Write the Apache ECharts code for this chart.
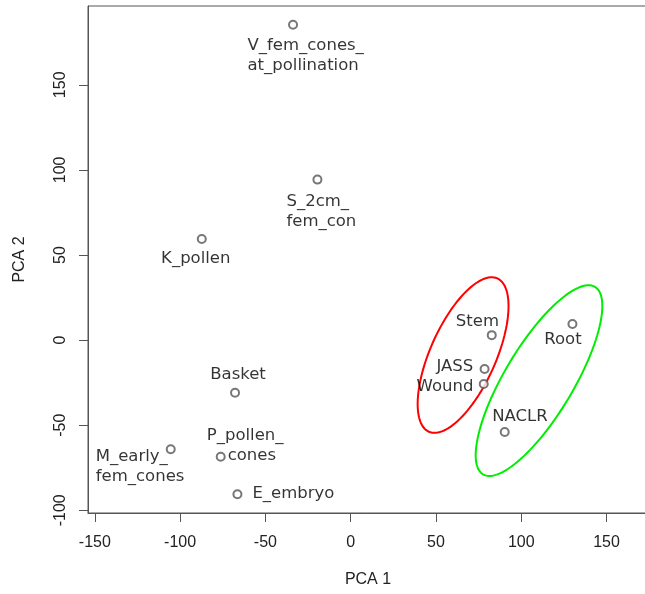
<!DOCTYPE html>
<html>
<head>
<meta charset="utf-8">
<script src="https://cdn.jsdelivr.net/npm/echarts@6/dist/echarts.min.js"></script>
<style>
html,body{margin:0;padding:0;background:#fff;}
#chart{width:645px;height:594px;}
</style>
</head>
<body>
<div id="chart"></div>
<script>
// ---- data ----
const sampleNames = ['V_fem_cones_\nat_pollination', 'S_2cm_\nfem_con', 'K_pollen', 'Basket',
  'M_early_\nfem_cones', 'P_pollen_\n    cones', 'E_embryo', 'Stem', 'JASS', 'Wound', 'Root', 'NACLR'];
const pca1 = [-33.8, -19.5, -87.3, -67.8, -105.5, -76.2, -66.4, 82.7, 78.5, 78.0, 130.0, 90.3];
const pca2 = [185.3, 94.3, 59.4, -30.9, -64.1, -68.5, -90.6, 2.9, -17.0, -25.8, 9.4, -54.0];
const xTicks = [-150, -100, -50, 0, 50, 100, 150];
const yTicks = [-100, -50, 0, 50, 100, 150];
// group ellipses (centre x, centre y, semi-major, semi-minor, tilt deg from vertical)
const ellipseCentersX = [65.9, 110.4];
const ellipseCentersY = [-8.8, -23.8];
const ellipseSemiMajor = [49.3, 64.1];
const ellipseSemiMinor = [19.2, 20.2];
const ellipseTilt = [24, 30.8];
const ellipseColors = ['#ff0000', '#00ee00'];

// ---- label placement (style, not data): [align, dx, dy of text top] ----
const labelPlacement = [
  ['left', -45.6, 10.7], ['left', -31, 12.4], ['center', -6, 9.6], ['center', 3, -27.7],
  ['left', -75, -2], ['left', -14, -30.7], ['left', 15, -10.4], ['center', -14.3, -23.3],
  ['right', -11.3, -12.3], ['right', -10.3, -7.3], ['center', -9.5, 6], ['center', 15.2, -25.3]
];

const points = sampleNames.map((n, i) => ({
  value: [pca1[i], pca2[i]],
  name: n,
  label: {
    show: true, position: 'inside', formatter: n,
    align: labelPlacement[i][0], verticalAlign: 'top',
    offset: [labelPlacement[i][1], labelPlacement[i][2]]
  }
}));

const axisFont = 'Liberation Sans';
const chart = echarts.init(document.getElementById('chart'), null, {renderer: 'canvas'});

const ellipseSeries = ellipseCentersX.map((cx, k) => ({
  type: 'custom',
  data: [[cx, ellipseCentersY[k]]],
  silent: true,
  z: 1,
  renderItem: function (params, api) {
    const cy = ellipseCentersY[k], a = ellipseSemiMajor[k], b = ellipseSemiMinor[k];
    const phi = ellipseTilt[k] * Math.PI / 180;
    const pts = [];
    for (let i = 0; i < 120; i++) {
      const t = i / 120 * 2 * Math.PI;
      const dx = a * Math.cos(t) * Math.sin(phi) + b * Math.sin(t) * Math.cos(phi);
      const dy = a * Math.cos(t) * Math.cos(phi) - b * Math.sin(t) * Math.sin(phi);
      pts.push(api.coord([cx + dx, cy + dy]));
    }
    return {
      type: 'polygon',
      shape: {points: pts},
      style: {fill: null, stroke: ellipseColors[k], lineWidth: 2}
    };
  }
}));

chart.setOption({
  animation: false,
  backgroundColor: '#fff',
  grid: {left: 88, top: 6, width: 560, height: 507, containLabel: false, outerBoundsMode: 'none',
    show: true, borderColor: '#555', borderWidth: 1, backgroundColor: 'transparent'},
  xAxis: {
    type: 'value', min: -154, max: 174.3,
    name: 'PCA 1', nameLocation: 'middle', nameGap: 59,
    nameTextStyle: {fontFamily: axisFont, fontSize: 16, color: '#222'},
    axisLine: {show: true, onZero: false, lineStyle: {color: '#555'}},
    axisTick: {show: true, length: 9, customValues: xTicks, lineStyle: {color: '#555'}},
    axisLabel: {customValues: xTicks, fontFamily: axisFont, fontSize: 16, color: '#222', margin: 22},
    splitLine: {show: false}
  },
  yAxis: {
    type: 'value', min: -101.6, max: 196.3,
    name: 'PCA 2', nameLocation: 'middle', nameGap: 60,
    nameTextStyle: {fontFamily: axisFont, fontSize: 16, color: '#222'},
    axisLine: {show: true, onZero: false, lineStyle: {color: '#555'}},
    axisTick: {show: true, length: 9, customValues: yTicks, lineStyle: {color: '#555'}},
    axisLabel: {customValues: yTicks, rotate: 90, fontFamily: axisFont, fontSize: 16, color: '#222', margin: 19},
    splitLine: {show: false}
  },
  series: [
    ...ellipseSeries,
    {
      type: 'scatter',
      z: 3,
      symbol: 'emptyCircle',
      symbolSize: 8,
      itemStyle: {color: '#555', borderColor: '#555', borderWidth: 1.3},
      label: {fontFamily: 'DejaVu Sans', fontSize: 16.5, lineHeight: 20, color: '#000'},
      emphasis: {disabled: true},
      data: points
    }
  ]
});
</script>
</body>
</html>
